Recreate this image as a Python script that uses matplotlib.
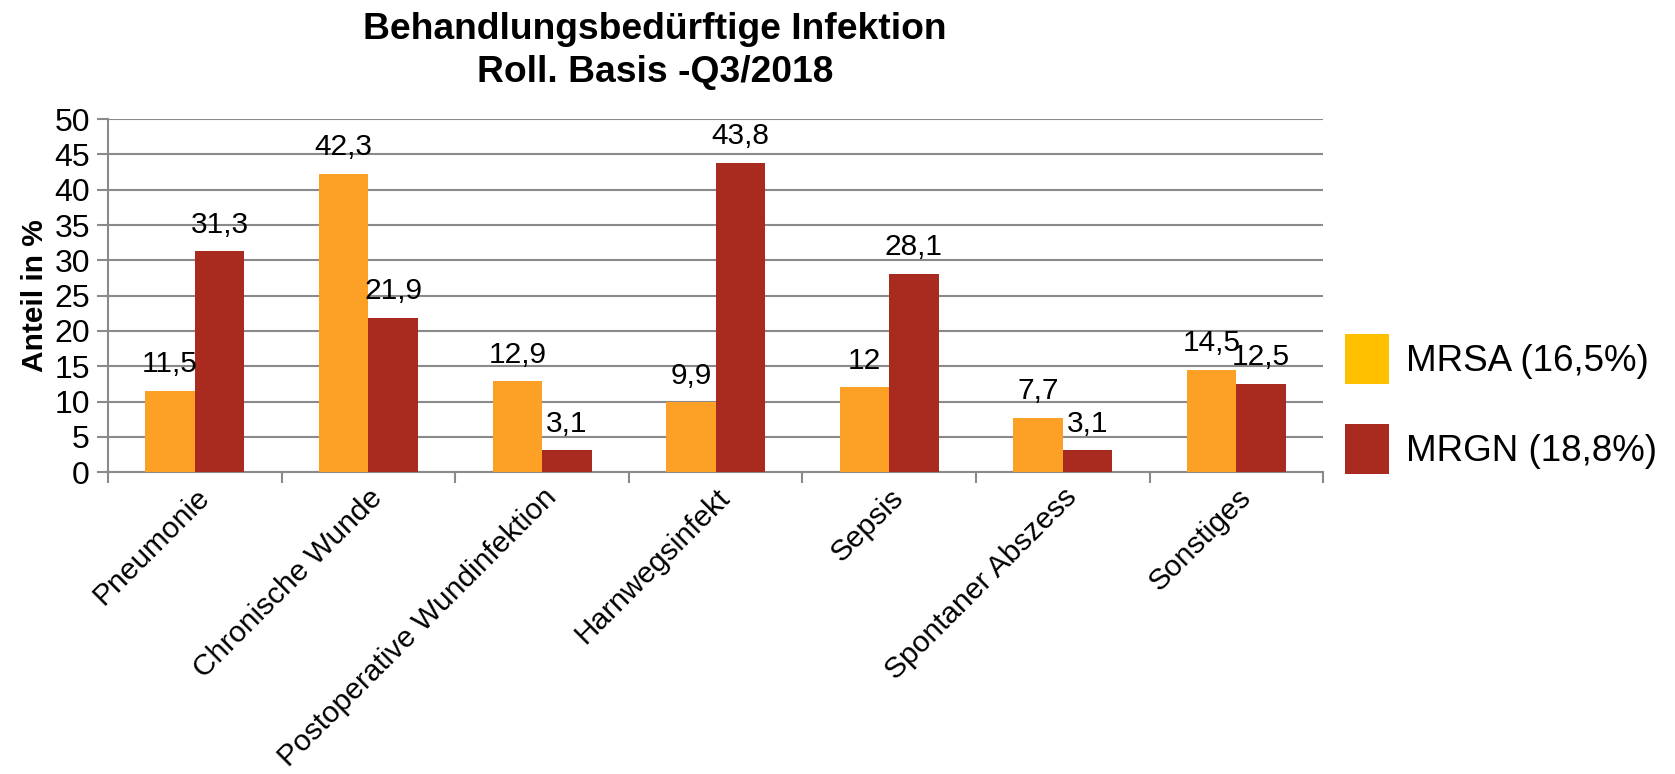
import numpy as np
import matplotlib.pyplot as plt
from matplotlib.patches import Patch

plt.rcParams['font.family'] = ['Liberation Sans', 'DejaVu Sans']

categories = ['Pneumonie', 'Chronische Wunde', 'Postoperative Wundinfektion',
              'Harnwegsinfekt', 'Sepsis', 'Spontaner Abszess', 'Sonstiges']
mrsa = [11.5, 42.3, 12.9, 9.9, 12.0, 7.7, 14.5]
mrgn = [31.3, 21.9, 3.1, 43.8, 28.1, 3.1, 12.5]
series_labels = ['MRSA (16,5%)', 'MRGN (18,8%)']

BAR_MRSA = '#FCA026'
BAR_MRGN = '#A92A1F'
LEG_MRSA = '#FFC000'
GRID = '#8a8a8a'


def fmt(v):
    # German decimal comma, integers without decimals
    if float(v).is_integer():
        return str(int(v))
    return f'{v:.1f}'.replace('.', ',')


fig = plt.figure(figsize=(16.75, 7.74), dpi=100)
ax = fig.add_axes([0.0645, 0.390, 0.7255, 0.456])

x = np.arange(len(categories))
w = 0.285
b1 = ax.bar(x - w / 2, mrsa, w, color=BAR_MRSA, zorder=3)
b2 = ax.bar(x + w / 2, mrgn, w, color=BAR_MRGN, zorder=3)

for bars, vals in ((b1, mrsa), (b2, mrgn)):
    for rect, v in zip(bars, vals):
        ax.annotate(fmt(v), (rect.get_x() + rect.get_width() / 2, rect.get_height()),
                    xytext=(0, 9), textcoords='offset points',
                    ha='center', va='bottom', fontsize=21.5, zorder=4)

ax.set_xlim(-0.5, len(categories) - 0.5)
ax.set_ylim(0, 50)
ax.set_yticks(np.arange(0, 51, 5))
ax.tick_params(axis='y', labelsize=23, length=8, width=1.5, color=GRID, pad=5)
ax.yaxis.grid(True, color=GRID, linewidth=1.5, zorder=0)

ax.set_xticks(x)
ax.set_xticklabels(categories, rotation=45, ha='right', rotation_mode='anchor',
                   fontsize=21.5)
ax.set_xticks(np.arange(-0.5, len(categories)), minor=True)
ax.tick_params(axis='x', which='major', length=0, pad=8)
ax.tick_params(axis='x', which='minor', length=8, width=1.5, color=GRID)

for s in ['top', 'right']:
    ax.spines[s].set_visible(False)
for s in ['left', 'bottom']:
    ax.spines[s].set_color(GRID)
    ax.spines[s].set_linewidth(1.5)

ax.set_ylabel('Anteil in %', fontsize=21.5, fontweight='bold', labelpad=4)

fig.text(0.391, 0.985, 'Behandlungsbedürftige Infektion\nRoll. Basis -Q3/2018',
         ha='center', va='top', fontsize=26.8, fontweight='bold', linespacing=1.3)

handles = [Patch(facecolor=LEG_MRSA), Patch(facecolor=BAR_MRGN)]
fig.legend(handles, series_labels, loc='upper left', bbox_to_anchor=(0.803, 0.569),
           frameon=False, fontsize=26.5, handlelength=1.2, handleheight=1.72,
           handletextpad=0.45, labelspacing=1.1, borderpad=0, borderaxespad=0)

fig.savefig('out.png', dpi=100)
